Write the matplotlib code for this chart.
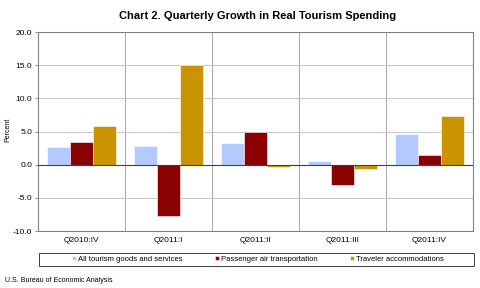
import matplotlib
matplotlib.use("Agg")
import matplotlib.pyplot as plt
from matplotlib.patches import Rectangle
import numpy as np

categories = ["Q2010:IV", "Q2011:I", "Q2011:II", "Q2011:III", "Q2011:IV"]
all_tourism = [2.6, 2.8, 3.2, 0.6, 4.6]
air_transport = [3.4, -7.8, 4.9, -3.0, 1.5]
accommodations = [5.9, 15.0, -0.4, -0.65, 7.4]
series_names = ["All tourism goods and services", "Passenger air transportation", "Traveler accommodations"]
colors = ["#B3C9FF", "#8B0000", "#C99400"]

plt.rcParams['font.family'] = ['Liberation Sans', 'DejaVu Sans']

fig = plt.figure(figsize=(4.8, 2.88), dpi=100)
ax = fig.add_axes([38/480, 1-231/288, 435/480, 199/288])

x = np.arange(len(categories))
w = 0.8/3
for i, (vals, name, c) in enumerate(zip([all_tourism, air_transport, accommodations], series_names, colors)):
    ax.bar(x + (i-1)*w, vals, w, color=c, label=name, zorder=3, edgecolor='white', linewidth=0.4)

ax.set_xlim(-0.5, len(categories)-0.5)
ax.set_ylim(-10, 20)
ax.set_yticks(np.arange(-10, 20.1, 5))
ax.set_yticklabels([f"{v:.1f}" for v in np.arange(-10, 20.1, 5)], fontsize=6)
ax.set_xticks(x)
ax.set_xticklabels(categories, fontsize=6)
ax.tick_params(axis='x', length=0, pad=4)
ax.tick_params(axis='y', length=2, pad=2, width=0.6, color='#808080')
ax.grid(axis='y', color='#C8C8C8', linewidth=0.7, zorder=0)
for b in np.arange(0.5, len(categories)-0.5, 1):
    ax.axvline(b, color='#A8A8A8', linewidth=0.7, zorder=0)
ax.axhline(0, color='#404040', linewidth=0.8, zorder=4)
for s in ax.spines.values():
    s.set_color('#808080')
    s.set_linewidth(0.8)

fig.text(8/480, 1-130/288, "Percent", rotation=90, fontsize=5, va='center', ha='center')
fig.text(258/480, 1-16/288, "Chart 2. Quarterly Growth in Real Tourism Spending", fontsize=8, fontweight='bold', ha='center', va='center')
fig.text(5/480, 1-280/288, "U.S. Bureau of Economic Analysis", fontsize=5, ha='left', va='center')

fig.patches.append(Rectangle((39/480, 1-266/288), 435/480, 13/288, transform=fig.transFigure,
                             fill=False, edgecolor='#404040', linewidth=0.7))
handles, labels = ax.get_legend_handles_labels()
leg = fig.legend(handles, labels, loc='center', ncol=3, fontsize=5.5,
                 bbox_to_anchor=(258/480, 1-259.5/288),
                 frameon=False, handlelength=0.5, handleheight=0.5,
                 handletextpad=0.3, columnspacing=4.2, borderpad=0.2, borderaxespad=0)

fig.savefig("out.png", dpi=100)
